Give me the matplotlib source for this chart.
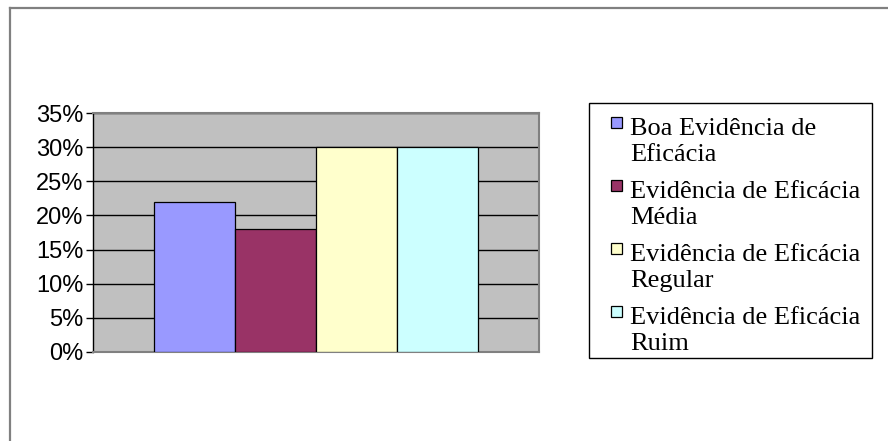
import matplotlib
matplotlib.use("Agg")
import matplotlib.pyplot as plt
from matplotlib.patches import Rectangle
from matplotlib.ticker import FuncFormatter, MultipleLocator

# Share of studies by level of evidence of efficacy
series_names = [
    "Boa Evidência de\nEficácia",
    "Evidência de Eficácia\nMédia",
    "Evidência de Eficácia\nRegular",
    "Evidência de Eficácia\nRuim",
]
values = [0.22, 0.18, 0.30, 0.30]
colors = ["#9999FF", "#993366", "#FFFFCC", "#CCFFFF"]

W, H = 888, 441
fig = plt.figure(figsize=(W / 100, H / 100), dpi=100)
fig.patch.set_facecolor("white")

# Plot area in pixel terms
px_left, px_right, px_top, px_bottom = 93, 539, 113, 352
ax = fig.add_axes([px_left / W, 1 - px_bottom / H,
                   (px_right - px_left) / W, (px_bottom - px_top) / H])
ax.set_facecolor("#C0C0C0")

positions = list(range(len(values)))
ax.bar(positions, values, width=1.0, color=colors, edgecolor="#000000",
       linewidth=0.9, zorder=3)

ax.set_xlim(-1.26, 4.26)
ax.set_ylim(0, 0.35)
ax.yaxis.set_major_locator(MultipleLocator(0.05))
ax.yaxis.set_major_formatter(FuncFormatter(lambda v, p: f"{v * 100:.0f}%"))
ax.yaxis.grid(True, color="#000000", linewidth=1.0, zorder=1)
ax.set_axisbelow(True)
ax.set_xticks([])
ax.tick_params(axis="y", direction="out", length=5, width=1.0, color="#000000",
               pad=2, labelsize=17)
for lab in ax.get_yticklabels():
    lab.set_fontfamily("Liberation Sans")
for side, sp in ax.spines.items():
    sp.set_color("#808080")
    sp.set_linewidth(1.5)
ax.spines["left"].set_color("#000000")
ax.spines["left"].set_linewidth(1.0)

# Overlay in pixel coordinates for the chart frame and legend
ov = fig.add_axes([0, 0, 1, 1], zorder=5)
ov.set_xlim(0, W)
ov.set_ylim(H, 0)
ov.axis("off")
ov.patch.set_alpha(0)

# Outer chart frame (top and left edges)
ov.plot([10, W], [7.5, 7.5], color="#808080", linewidth=1.6)
ov.plot([10, 10], [7.5, H], color="#808080", linewidth=1.6)

# Legend box
ov.add_patch(Rectangle((589, 103), 283, 255, facecolor="white",
                       edgecolor="#000000", linewidth=1.0))
entry_top = 117
entry_step = 63
for i, (name, c) in enumerate(zip(series_names, colors)):
    y0 = entry_top + i * entry_step
    ov.add_patch(Rectangle((611, y0), 11, 11, facecolor=c,
                           edgecolor="#000000", linewidth=0.9))
    ov.text(630, y0 + 1, name, fontsize=19, family="Liberation Serif",
            va="top", ha="left", linespacing=1.25, color="#000000")

fig.savefig("out.png", dpi=100)
